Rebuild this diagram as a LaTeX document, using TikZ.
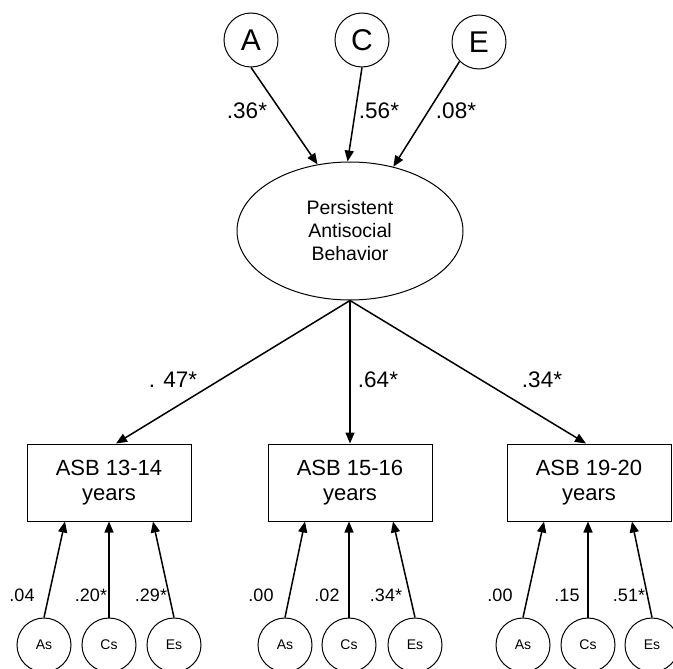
\documentclass[tikz,border=0pt]{standalone}
\usepackage{fontspec}
\setmainfont{Liberation Sans}
\usetikzlibrary{arrows.meta,shapes.geometric,calc}

\begin{document}
\begin{tikzpicture}[x=1pt,y=-1pt,
  latent/.style={draw,circle,line width=1pt,minimum size=54pt,inner sep=0pt,
    font=\fontsize{30}{32}\selectfont},
  resid/.style={draw,circle,line width=1pt,minimum size=54pt,inner sep=0pt,
    font=\fontsize{14}{16}\selectfont},
  factor/.style={draw,ellipse,line width=1pt,minimum width=226pt,minimum height=138pt,
    inner sep=0pt,align=center,font=\fontsize{19.5}{23}\selectfont},
  indicator/.style={draw,rectangle,line width=1pt,minimum width=164pt,minimum height=77pt,
    inner sep=0pt,align=center,font=\fontsize{22}{25}\selectfont},
  link/.style={line width=1.5pt,-{Triangle[length=11pt,width=9pt]}},
  coef/.style={inner sep=0pt,font=\fontsize{22.5}{25}\selectfont},
  coefsmall/.style={inner sep=0pt,font=\fontsize{18}{20}\selectfont}]

\useasboundingbox (0,0) rectangle (673,669);

% Genetic and environmental factors of the common factor
\node[latent] (A) at (251,40) {A};
\node[latent] (C) at (362,40) {C};
\node[latent] (E) at (479,42) {E};

% Common latent factor
\node[factor] (P) at (350,231) {Persistent\\Antisocial\\Behavior};

% Observed measures
\node[indicator] (b1) at (109,482.5) {ASB 13-14\\years};
\node[indicator] (b2) at (350,482.5) {ASB 15-16\\years};
\node[indicator] (b3) at (589,482.5) {ASB 19-20\\years};

% Measure-specific factors
\node[resid] (as1) at (44,645)  {As};
\node[resid] (cs1) at (109,645) {Cs};
\node[resid] (es1) at (174,645) {Es};
\node[resid] (as2) at (285,645) {As};
\node[resid] (cs2) at (349,645) {Cs};
\node[resid] (es2) at (415,645) {Es};
\node[resid] (as3) at (523,645) {As};
\node[resid] (cs3) at (588,645) {Cs};
\node[resid] (es3) at (652,645) {Es};

% Paths into the common factor
\draw[link] (A.south) -- (P.116);
\draw[link] (C.south) -- (P.92);
\draw[link] (E.225) -- (P.56);
\node[coef] (lA) at (247,111) {.36*};
\node[coef] (lC) at (379,111) {.56*};
\node[coef] (lE) at (456,111) {.08*};

% Loadings on the measures
\draw[link] (P.south) -- ($(b1.north)+(7,0)$);
\draw[link] (P.south) -- (b2.north);
\draw[link] (P.south) -- ($(b3.north)+(-3,0)$);
\node[coef] (l1) at (173,380) {. 47*};
\node[coef] (l2) at (378,380) {.64*};
\node[coef] (l3) at (542,380) {.34*};

% Specific paths
\draw[link] (as1.north) -- ($(b1.south)+(-44,0)$);
\draw[link] (cs1.north) -- (cs1.north |- b1.south);
\draw[link] (es1.north) -- ($(b1.south)+(44,0)$);
\draw[link] (as2.north) -- ($(b2.south)+(-45,0)$);
\draw[link] (cs2.north) -- (cs2.north |- b2.south);
\draw[link] (es2.north) -- ($(b2.south)+(43,0)$);
\draw[link] (as3.north) -- ($(b3.south)+(-45,0)$);
\draw[link] (cs3.north) -- (cs3.north |- b3.south);
\draw[link] (es3.north) -- ($(b3.south)+(43,0)$);

\node[coefsmall] (k1) at (22,595)  {.04};
\node[coefsmall] (k2) at (91,595)  {.20*};
\node[coefsmall] (k3) at (151,595) {.29*};
\node[coefsmall] (k4) at (261,595) {.00};
\node[coefsmall] (k5) at (327,595) {.02};
\node[coefsmall] (k6) at (386,595) {.34*};
\node[coefsmall] (k7) at (500,595) {.00};
\node[coefsmall] (k8) at (567,595) {.15};
\node[coefsmall] (k9) at (629,595) {.51*};
\end{tikzpicture}
\end{document}
